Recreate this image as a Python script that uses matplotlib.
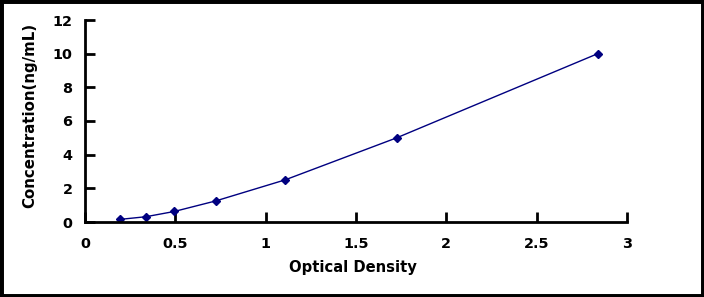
import matplotlib
matplotlib.use("Agg")
import matplotlib.pyplot as plt
from matplotlib.patches import Rectangle

od = [0.194, 0.336, 0.494, 0.723, 1.107, 1.725, 2.838]
conc = [0.156, 0.312, 0.625, 1.25, 2.5, 5.0, 10.0]
xticks = [0, 0.5, 1, 1.5, 2, 2.5, 3]
xticklabels = ["0", "0.5", "1", "1.5", "2", "2.5", "3"]
yticks = [0, 2, 4, 6, 8, 10, 12]

plt.rcParams['font.family'] = ['DejaVu Sans']
plt.rcParams['font.weight'] = 'bold'

fig = plt.figure(figsize=(7.04, 2.97), dpi=100)
ax = fig.add_axes([85/704, 75/297, (627-85)/704, (222-20)/297])

navy = '#000080'
ax.plot(od, conc, color=navy, lw=1.0, marker='D', markersize=4.5,
        markerfacecolor=navy, markeredgecolor=navy)

ax.set_xlim(0, 3)
ax.set_ylim(0, 12)
ax.set_xticks(xticks)
ax.set_xticklabels(xticklabels)
ax.set_yticks(yticks)
for s in ['top', 'right']:
    ax.spines[s].set_visible(False)
for s in ['left', 'bottom']:
    ax.spines[s].set_linewidth(2)
ax.tick_params(axis='both', direction='in', length=7, width=2, labelsize=10.4)
ax.tick_params(axis='x', pad=11)
ax.tick_params(axis='y', pad=9)
for lab in ax.get_xticklabels() + ax.get_yticklabels():
    lab.set_fontweight('bold')

ax.set_xlabel('Optical Density', fontsize=10.6, fontweight='bold')
ax.xaxis.set_label_coords(0.495, -0.19)
ax.set_ylabel('Concentration(ng/mL)', fontsize=10.8, fontweight='bold')
ax.yaxis.set_label_coords(-0.088, 0.53)

fig.patches.append(Rectangle((0, 0), 1, 1, transform=fig.transFigure,
                             fill=False, edgecolor='black', linewidth=5))

fig.savefig('out.png', dpi=100)
